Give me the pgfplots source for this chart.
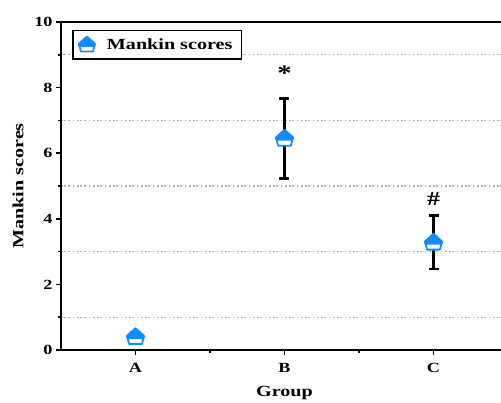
\documentclass[border=0pt]{standalone}
\usepackage{fontspec}
\setmainfont{Liberation Serif}[FakeStretch=1.3]
\usepackage{pgfplots}
\pgfplotsset{compat=1.18}
\definecolor{mblue}{RGB}{20,140,255}
\definecolor{gridgray}{RGB}{175,175,175}
\pgfdeclareplotmark{halfhouse}{%
  \pgfsetlinewidth{1.8pt}%
  \pgfsetroundjoin
  \pgfsetstrokecolor{mblue}\pgfsetfillcolor{white}%
  \pgfpathmoveto{\pgfpoint{0pt}{\pgfplotmarksize}}%
  \pgfpathlineto{\pgfpoint{-\pgfplotmarksize}{0.1\pgfplotmarksize}}%
  \pgfpathlineto{\pgfpoint{-0.75\pgfplotmarksize}{-0.85\pgfplotmarksize}}%
  \pgfpathlineto{\pgfpoint{0.75\pgfplotmarksize}{-0.85\pgfplotmarksize}}%
  \pgfpathlineto{\pgfpoint{\pgfplotmarksize}{0.1\pgfplotmarksize}}%
  \pgfpathclose
  \pgfusepathqfillstroke
  \pgfsetfillcolor{mblue}%
  \pgfpathmoveto{\pgfpoint{0pt}{\pgfplotmarksize}}%
  \pgfpathlineto{\pgfpoint{-\pgfplotmarksize}{0.1\pgfplotmarksize}}%
  \pgfpathlineto{\pgfpoint{-0.93\pgfplotmarksize}{-0.15\pgfplotmarksize}}%
  \pgfpathlineto{\pgfpoint{0.93\pgfplotmarksize}{-0.15\pgfplotmarksize}}%
  \pgfpathlineto{\pgfpoint{\pgfplotmarksize}{0.1\pgfplotmarksize}}%
  \pgfpathclose
  \pgfusepathqfillstroke
}
\begin{document}
\begin{tikzpicture}
\begin{axis}[
  scale only axis,
  width=447pt, height=328pt,
  xmin=-0.5, xmax=2.5,
  ymin=0, ymax=10,
  xtick={0,1,2},
  xticklabels={A,B,C},
  minor xtick={0.5,1.5},
  ytick={0,2,4,6,8,10},
  minor ytick={1,3,5,7,9},
  yminorgrids=true,
  minor grid style={gridgray, line width=1.1pt, dash pattern=on 2pt off 1.5pt on 2pt off 1.5pt on 2pt off 3pt on 1pt off 3pt},
  tick align=outside,
  major tick length=5pt,
  minor tick length=3pt,
  every tick/.style={black, line width=1.6pt},
  axis line style={line width=2pt},
  xtick pos=bottom, ytick pos=left,
  /pgf/number format/assume math mode=true,
  tick label style={font=\fontsize{14}{16}\selectfont\bfseries},
  xticklabel style={yshift=-5pt},
  label style={font=\fontsize{15.5}{18}\selectfont\bfseries},
  xlabel={Group},
  ylabel={Mankin scores},
  xlabel style={at={(axis description cs:0.5,-0.131)}, anchor=center},
  ylabel style={at={(axis description cs:-0.096,0.5)}, anchor=center},
  legend style={at={(axis description cs:0.025,0.976)}, anchor=north west,
    draw=black, line width=1.5pt, font=\fontsize{15.5}{18}\selectfont\bfseries,
    inner xsep=6pt, inner ysep=5pt,
    nodes={inner sep=3pt}},
  legend cell align=left,
  legend image code/.code={\pgfsetplotmarksize{8pt}\pgftransformshift{\pgfpoint{6pt}{0pt}}\pgfuseplotmark{halfhouse}},
  clip=false,
]
\addplot[only marks, mark=halfhouse, mark size=8.5pt,
  error bars/.cd, y dir=both, y explicit,
  error bar style={black, line width=2.2pt},
  error mark options={black, line width=2.2pt, mark size=5pt, rotate=90}]
  coordinates {
  (0,0.40) +- (0,0.15)
  (1,6.45) +- (0,1.22)
  (2,3.28) +- (0,0.82)
};
\addlegendentry{\hspace{9pt}Mankin scores}
\node[font=\fontsize{22}{24}\selectfont\bfseries] at (axis cs:1,8.45) {*};
\node[font=\fontsize{20}{22}\selectfont\bfseries] at (axis cs:2,4.6) {\#};
\end{axis}
\pgfresetboundingbox
\path[use as bounding box] ([xshift=-61pt,yshift=-53pt]current axis.south west) rectangle ([xshift=-7pt,yshift=22pt]current axis.north east);
\end{tikzpicture}
\end{document}
